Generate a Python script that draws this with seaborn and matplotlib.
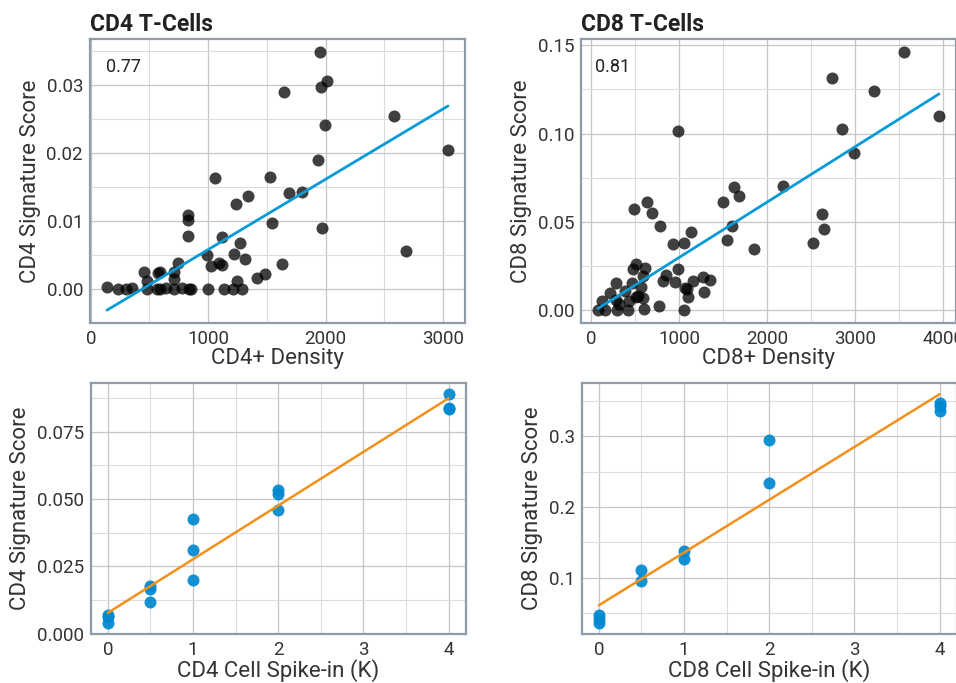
import numpy as np
import pandas as pd
import seaborn as sns
import matplotlib.pyplot as plt
from matplotlib.ticker import MultipleLocator, FormatStrFormatter

# -------------------------------------------------
# Data
# -------------------------------------------------
cd4_density = [138, 235, 300, 350, 457, 477, 477, 569, 592, 563, 592, 640, 706, 711,
               706, 740, 780, 825, 825, 825, 839, 853, 986, 1000, 1023, 1057, 1090,
               1122, 1120, 1131, 1222, 1236, 1210, 1248, 1275, 1285, 1313, 1338, 1420,
               1486, 1526, 1540, 1628, 1650, 1687, 1798, 1934, 1957, 1965, 1974, 1994,
               2013, 2583, 2683, 3043]
cd4_score = [0.00025, 0.0, 0.0, 0.0002, 0.00255, 0.0011, 0.0, 0.0023, 0.0025, 0.0, 0.0,
             0.0002, 0.0025, 0.0015, 0.0, 0.0038, 0.0002, 0.0109, 0.0101, 0.0078, 0.0,
             0.0, 0.005, 0.0, 0.0034, 0.0163, 0.0038, 0.0076, 0.0035, 0.0, 0.0052,
             0.0124, 0.0, 0.0011, 0.0068, 0.0, 0.0044, 0.0137, 0.0016, 0.0022, 0.0165,
             0.0097, 0.0036, 0.0289, 0.0141, 0.0143, 0.0189, 0.0348, 0.0297, 0.0089,
             0.0241, 0.0305, 0.0254, 0.0056, 0.0204]

cd8_density = [79, 120, 160, 211, 278, 278, 300, 323, 380, 417, 428, 470, 485, 473, 511,
               511, 530, 567, 586, 586, 596, 610, 641, 690, 774, 784, 812, 850, 930,
               951, 992, 992, 1053, 1060, 1063, 1086, 1100, 1137, 1158, 1273, 1288,
               1350, 1496, 1541, 1602, 1628, 1677, 1853, 2184, 2523, 2628, 2643, 2741,
               2853, 2981, 3218, 3549, 3951]
cd8_score = [0.0, 0.0053, 0.0, 0.0096, 0.0151, 0.0057, 0.0, 0.0036, 0.0108, 0.0, 0.0052,
             0.0151, 0.0572, 0.0232, 0.026, 0.0072, 0.0081, 0.0132, 0.0194, 0.0071,
             0.0008, 0.0236, 0.0614, 0.055, 0.0025, 0.0474, 0.0163, 0.0198, 0.0372,
             0.0157, 0.1015, 0.0234, 0.0, 0.0379, 0.0127, 0.0121, 0.0073, 0.0445,
             0.0166, 0.0185, 0.01, 0.0168, 0.0613, 0.0396, 0.0474, 0.0698, 0.0647,
             0.0345, 0.0704, 0.0383, 0.0543, 0.0458, 0.1317, 0.1023, 0.0889, 0.1242,
             0.1462, 0.11]

cd4_spike = [0, 0, 0, 0.5, 0.5, 0.5, 1, 1, 1, 2, 2, 2, 4, 4, 4]
cd4_spike_score = [0.0068, 0.0062, 0.0040, 0.0176, 0.0167, 0.0118, 0.0426, 0.031,
                   0.0198, 0.0535, 0.052, 0.0459, 0.089, 0.0838, 0.0836]

cd8_spike = [0, 0, 0, 0.5, 0.5, 1, 1, 2, 2, 4, 4, 4]
cd8_spike_score = [0.047, 0.042, 0.036, 0.111, 0.095, 0.138, 0.126, 0.294, 0.234,
                   0.347, 0.342, 0.336]

top_r = ["0.77", "0.81"]

# -------------------------------------------------
# Style
# -------------------------------------------------
sns.set_style("white")
plt.rcParams['font.family'] = ['Roboto', 'DejaVu Sans']

DOT_GREY = "black"
TOP_LINE = "#0a9ad8"
DOT_BLUE = "#0088d0"
FIT_ORANGE = "#f39019"
SPINE = "#8f9ba6"
TEXT = "#333333"


def style_axes(ax, xmaj, ymaj, yfmt):
    ax.xaxis.set_major_locator(MultipleLocator(xmaj))
    ax.xaxis.set_minor_locator(MultipleLocator(xmaj / 2))
    ax.yaxis.set_major_locator(MultipleLocator(ymaj))
    ax.yaxis.set_minor_locator(MultipleLocator(ymaj / 2))
    ax.yaxis.set_major_formatter(FormatStrFormatter(yfmt))
    ax.grid(True, which="major", color="#c6c6c6", linewidth=0.9)
    ax.grid(True, which="minor", color="#dcdcdc", linewidth=0.8)
    ax.set_axisbelow(True)
    ax.tick_params(which="both", length=0, labelsize=13.5, labelcolor=TEXT, pad=5)
    for s in ax.spines.values():
        s.set_color(SPINE)
        s.set_linewidth(1.6)
    ax.xaxis.label.set_size(16)
    ax.yaxis.label.set_size(16)
    ax.xaxis.label.set_color(TEXT)
    ax.yaxis.label.set_color(TEXT)
    ax.xaxis.labelpad = 0


fig = plt.figure(figsize=(9.56, 6.83), dpi=100)
ax1 = fig.add_axes([0.0941, 0.527, 0.3923, 0.4158])
ax2 = fig.add_axes([0.6077, 0.527, 0.3923, 0.4158])
ax3 = fig.add_axes([0.0949, 0.0713, 0.3923, 0.3684])
ax4 = fig.add_axes([0.6085, 0.0713, 0.3923, 0.3684])

# -- Top row: density vs signature score --
df4 = pd.DataFrame({"CD4+ Density": cd4_density, "CD4 Signature Score": cd4_score})
sns.regplot(data=df4, x="CD4+ Density", y="CD4 Signature Score", ax=ax1, ci=None,
            scatter_kws=dict(s=75, color=DOT_GREY, alpha=0.75, linewidths=0),
            line_kws=dict(color=TOP_LINE, linewidth=2))

df8 = pd.DataFrame({"CD8+ Density": cd8_density, "CD8 Signature Score": cd8_score})
sns.regplot(data=df8, x="CD8+ Density", y="CD8 Signature Score", ax=ax2, ci=None,
            scatter_kws=dict(s=75, color=DOT_GREY, alpha=0.75, linewidths=0),
            line_kws=dict(color=TOP_LINE, linewidth=2))

# -- Bottom row: spike-in experiments --
sp4 = pd.DataFrame({"CD4 Cell Spike-in (K)": cd4_spike, "CD4 Signature Score": cd4_spike_score})
sns.regplot(data=sp4, x="CD4 Cell Spike-in (K)", y="CD4 Signature Score", ax=ax3, ci=None,
            scatter_kws=dict(s=75, color=DOT_BLUE, alpha=0.92, linewidths=0),
            line_kws=dict(color=FIT_ORANGE, linewidth=1.8))

sp8 = pd.DataFrame({"CD8 Cell Spike-in (K)": cd8_spike, "CD8 Signature Score": cd8_spike_score})
sns.regplot(data=sp8, x="CD8 Cell Spike-in (K)", y="CD8 Signature Score", ax=ax4, ci=None,
            scatter_kws=dict(s=75, color=DOT_BLUE, alpha=0.92, linewidths=0),
            line_kws=dict(color=FIT_ORANGE, linewidth=1.8))

style_axes(ax1, 1000, 0.01, "%.2f")
style_axes(ax2, 1000, 0.05, "%.2f")
style_axes(ax3, 1, 0.025, "%.3f")
style_axes(ax4, 1, 0.1, "%.1f")

ax1.set_title("CD4 T-Cells", loc="left", fontsize=16.5, fontweight="bold", color="#222222", pad=6)
ax2.set_title("CD8 T-Cells", loc="left", fontsize=16.5, fontweight="bold", color="#222222", pad=6)
ax1.text(0.088, 0.90, top_r[0], transform=ax1.transAxes, fontsize=13, color="#222222",
         ha="center", va="center")
ax2.text(0.085, 0.90, top_r[1], transform=ax2.transAxes, fontsize=13, color="#222222",
         ha="center", va="center")

fig.savefig("out.png", dpi=100)
